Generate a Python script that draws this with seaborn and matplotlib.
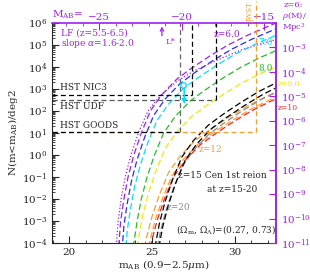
import numpy as np
import pandas as pd
import matplotlib
matplotlib.use("Agg")
import matplotlib.pyplot as plt
import seaborn as sns

sns.set_style("ticks")
plt.rcParams['font.family'] = ['DejaVu Serif']
plt.rcParams['mathtext.fontset'] = 'dejavuserif'

purple = '#a020f0'
blue = '#2a2aff'
cyan = '#00e0ff'
green = '#22c022'
yellow = '#f0ea00'
orange = '#ff9a2a'
red = '#ff2020'
gray = '#8a8a8a'

# cumulative counts, log10 N(<m) per deg^2
m_z6_a16 = [22.8, 22.85, 22.95, 23.13, 23.38, 23.72, 24.17, 24.75, 25.5, 26.5, 27.6, 28.9, 30.3, 31.6, 32.5, 33.5]
n_z6_a16 = [-5, -4, -3, -2, -1, 0, 1, 2, 2.7, 3.35, 3.85, 4.3, 4.75, 5.05, 5.25, 5.5]

m_z6 = [22.95, 23.0, 23.1, 23.3, 23.55, 23.9, 24.35, 24.9, 25.6, 26.5, 27.4, 28.5, 29.6, 30.8, 32.5, 33.5]
n_z6 = [-5, -4, -3, -2, -1, 0, 1, 2, 2.75, 3.45, 3.95, 4.5, 5.0, 5.45, 6.0, 6.3]

m_z65 = [23.15, 23.2, 23.3, 23.5, 23.75, 24.1, 24.55, 25.1, 25.8, 26.7, 27.6, 28.7, 29.8, 31.0, 32.7, 33.7]
n_z65 = [-5.2, -4.2, -3.2, -2.2, -1.2, -0.2, 0.8, 1.8, 2.55, 3.25, 3.75, 4.3, 4.8, 5.25, 5.8, 6.1]

m_z7 = [23.35, 23.4, 23.5, 23.7, 23.95, 24.3, 24.75, 25.3, 26.0, 26.9, 27.8, 28.9, 30.0, 31.2, 32.9, 33.9]
n_z7 = [-5.43, -4.43, -3.43, -2.43, -1.43, -0.43, 0.57, 1.57, 2.32, 3.02, 3.52, 4.07, 4.57, 5.02, 5.57, 5.87]

m_z8 = [23.75, 23.8, 23.9, 24.1, 24.35, 24.7, 25.15, 25.7, 26.4, 27.3, 28.2, 29.3, 30.4, 31.6, 33.3, 34.3]
n_z8 = [-6, -5, -4, -3, -2, -1, 0, 1, 1.75, 2.45, 2.95, 3.5, 4.0, 4.45, 5.0, 5.3]

m_z9 = [23.85, 23.9, 24.0, 24.2, 24.45, 24.8, 25.25, 25.8, 26.5, 27.4, 28.3, 29.4, 30.5, 31.7, 33.4, 34.4]
n_z9 = [-6.7, -5.7, -4.7, -3.7, -2.7, -1.7, -0.7, 0.3, 1.05, 1.75, 2.25, 2.8, 3.3, 3.75, 4.3, 4.6]

m_z10 = [24.35, 24.4, 24.5, 24.7, 24.95, 25.3, 25.75, 26.3, 27.0, 27.9, 28.8, 29.9, 31.0, 32.2, 33.9, 34.9]
n_z10 = [-8, -7, -6, -5, -4, -3, -2, -1, -0.25, 0.45, 0.95, 1.5, 2.0, 2.45, 3.0, 3.3]

m_z12a = [24.05, 24.1, 24.2, 24.4, 24.65, 25.0, 25.45, 26.0, 26.7, 27.6, 28.5, 29.6, 30.7, 31.9, 33.6, 34.6]
n_z12a = [-7.8, -6.8, -5.8, -4.8, -3.8, -2.8, -1.8, -0.8, -0.05, 0.65, 1.15, 1.7, 2.2, 2.65, 3.2, 3.5]
m_z12b = [24.25, 24.3, 24.4, 24.6, 24.85, 25.2, 25.65, 26.2, 26.9, 27.8, 28.7, 29.8, 30.9, 32.1, 33.8, 34.8]
n_z12b = [-7.95, -6.95, -5.95, -4.95, -3.95, -2.95, -1.95, -0.95, -0.2, 0.5, 1.0, 1.55, 2.05, 2.5, 3.05, 3.35]

m_z15a = [24.85, 24.9, 25.0, 25.2, 25.45, 25.8, 26.25, 26.8, 27.5, 28.4, 29.3, 30.4, 31.5, 32.7, 34.4, 35.4]
n_z15a = [-7.1, -6.1, -5.1, -4.1, -3.1, -2.1, -1.1, -0.1, 0.65, 1.35, 1.85, 2.4, 2.9, 3.35, 3.9, 4.2]
m_z15b = [25.05, 25.1, 25.2, 25.4, 25.65, 26.0, 26.45, 27.0, 27.7, 28.6, 29.5, 30.6, 31.7, 32.9, 34.6, 35.6]
n_z15b = [-7.25, -6.25, -5.25, -4.25, -3.25, -2.25, -1.25, -0.25, 0.5, 1.2, 1.7, 2.25, 2.75, 3.2, 3.75, 4.05]

m_z20 = [24.9, 24.95, 25.05, 25.25, 25.5, 25.85, 26.3, 26.85, 27.55, 28.45, 29.35, 30.45, 31.55, 32.75, 34.45, 35.45]
n_z20 = [-7.5, -6.5, -5.5, -4.5, -3.5, -2.5, -1.5, -0.5, 0.25, 0.95, 1.45, 2.0, 2.5, 2.95, 3.5, 3.8]

# survey limits: (depth in m_AB, log10 N for one object per field)
nic3 = (27.4, 2.75)
udf = (28.9, 2.5)
goods = (26.7, 1.05)
jwst = (31.3, 1.05)

fig = plt.figure(figsize=(3.1, 2.74), dpi=100)
ax = fig.add_axes([0.168, 0.113, 0.722, 0.803])

dash = (0, (5, 2.5))
curves = [
    (m_z6_a16, n_z6_a16, purple, ':'),
    (m_z6, n_z6, purple, dash),
    (m_z65, n_z65, blue, dash),
    (m_z7, n_z7, cyan, dash),
    (m_z8, n_z8, green, dash),
    (m_z9, n_z9, yellow, dash),
    (m_z12a, n_z12a, orange, dash),
    (m_z12b, n_z12b, orange, dash),
    (m_z10, n_z10, red, dash),
    (m_z20, n_z20, gray, dash),
    (m_z15a, n_z15a, 'black', dash),
    (m_z15b, n_z15b, 'black', dash),
]
for m, n, c, ls in curves:
    sns.lineplot(x=m, y=10.0 ** np.array(n), ax=ax, color=c, linestyle=ls,
                 lw=0.9, sort=False, estimator=None)

ax.set_yscale('log')
ax.set_xlim(18.95, 32.5)
ax.set_ylim(1e-4, 1e6)

# survey boxes
bl = (0, (4, 2.5))
ax.plot([18, jwst[0]], [10 ** jwst[1]] * 2, color=orange, ls=bl, lw=0.9)
ax.plot([jwst[0]] * 2, [10 ** jwst[1], 1e7], color=orange, ls=bl, lw=0.9, clip_on=False)
ax.plot([18, goods[0]], [10 ** goods[1]] * 2, color='black', ls=bl, lw=0.9)
ax.plot([goods[0]] * 2, [10 ** goods[1], 1e6], color='#666666', ls=bl, lw=0.9)
ax.plot([18, udf[0]], [10 ** udf[1]] * 2, color='#555555', ls=bl, lw=0.9)
ax.plot([udf[0]] * 2, [10 ** udf[1], 1e6], color='black', ls=bl, lw=0.9)
ax.plot([18, nic3[0]], [10 ** nic3[1]] * 2, color='black', ls=bl, lw=0.9)
ax.plot([nic3[0]] * 2, [10 ** nic3[1], 1e6], color='black', ls=bl, lw=0.9)

# z~6 object and L* marker
ax.annotate('', xy=(26.95, 10 ** 2.2), xytext=(26.95, 10 ** 3.15),
            arrowprops=dict(arrowstyle='-|>', color=cyan, lw=1.2, mutation_scale=6))
ax.plot([26.9], [10 ** 3.2], 'o', ms=4, mfc='none', mec=cyan, mew=1)
ax.annotate('', xy=(25.6, 10 ** 5.97), xytext=(25.6, 10 ** 5.3),
            arrowprops=dict(arrowstyle='->', color=purple, lw=0.9, mutation_scale=6))
ax.text(25.8, 10 ** 5.05, 'L*', color=purple, fontsize=6)

fs = 6.5
ax.text(19.5, 10 ** 5.55, 'LF (z=5.5-6.5)', color=purple, fontsize=fs, va='center')
ax.text(19.5, 10 ** 5.05, r'slope $\alpha$=1.6-2.0', color=purple, fontsize=fs, va='center')
ax.text(19.4, 10 ** 3.05, 'HST NIC3', fontsize=fs, va='center')
ax.text(19.4, 10 ** 2.2, 'HST UDF', fontsize=fs, va='center')
ax.text(19.4, 10 ** 1.36, 'HST GOODS', fontsize=fs, va='center')
ax.text(28.7, 10 ** 5.5, 'z=6.0', color=purple, fontsize=fs, va='center')
ax.text(31.45, 10 ** 5.1, '7.0', color=cyan, fontsize=fs, va='center')
ax.text(31.45, 10 ** 3.95, '8.0', color=green, fontsize=fs, va='center')
ax.text(32.6, 10 ** 3.25, 'z=9.0', color=yellow, fontsize=5.5, va='center', clip_on=False)
ax.text(32.6, 10 ** 2.12, 'z=10', color=red, fontsize=5.5, va='center', clip_on=False)
ax.text(27.8, 10 ** 0.27, 'z=12', color=orange, fontsize=fs, va='center')
ax.text(26.6, 10 ** -0.95, 'z=15 Cen 1st reion', fontsize=fs, va='center')
ax.text(28.3, 10 ** -1.55, 'at z=15-20', fontsize=fs, va='center')
ax.text(25.9, 10 ** -2.4, 'z=20', color=gray, fontsize=fs, va='center')
ax.text(26.45, 10 ** -3.4, r'($\Omega_{\rm m}$, $\Omega_{\Lambda}$)=(0.27, 0.73)', fontsize=fs, va='center')

# axes styling
ax.set_xticks([20, 25, 30])
ax.set_xticks(np.arange(19, 33), minor=True)
ax.set_yticks([10.0 ** k for k in range(-4, 7)])
ax.tick_params(which='both', direction='in', top=False, right=False, labelsize=7.5)
ax.tick_params(which='major', length=5)
ax.tick_params(which='minor', length=2.5)
ax.set_xlabel(r'm$_{\rm AB}$ (0.9$-$2.5$\mu$m)', fontsize=7.5, labelpad=1)
ax.set_ylabel(r'N(m<m$_{\rm AB}$)/deg2', fontsize=7.5, labelpad=1)
ax.spines['top'].set_color(purple)
ax.spines['right'].set_color(purple)
ax.spines['top'].set_linewidth(1.2)
ax.spines['right'].set_linewidth(1.2)

# top axis: absolute magnitude at z~6
dm = 46.8
top = ax.secondary_xaxis('top', functions=(lambda x: x - dm, lambda x: x + dm))
top.set_xticks([-25, -20, -15])
top.set_xticks(np.arange(-27, -13), minor=True)
top.set_xticklabels(['\u221225', '\u221220', '\u221215'])
top.tick_params(which='both', direction='in', colors=purple, labelsize=7.5, pad=1)
top.tick_params(which='major', length=5)
top.tick_params(which='minor', length=2.5)
top.spines['top'].set_visible(False)

# right axis: space density
ax2 = ax.twinx()
ax2.set_yscale('log')
ax2.set_ylim(1e-11, 1e-2)
ax2.set_yticks([10.0 ** k for k in range(-11, -2)])
ax2.tick_params(which='both', direction='in', colors=purple, labelsize=7.5)
ax2.tick_params(which='major', length=5)
ax2.tick_params(which='minor', length=2.5)
for s in ['left', 'bottom', 'top']:
    ax2.spines[s].set_visible(False)
ax2.spines['right'].set_color(purple)
ax2.spines['right'].set_linewidth(1.2)

fig.text(52 / 310, 1 - 15 / 274, r'M$_{\rm AB}$=', color=purple, fontsize=7.5, va='center')
fig.text(251 / 310, 1 - 12 / 274, 'JWST', color=orange, fontsize=5, rotation=90, va='center', ha='center')
fig.text(284 / 310, 1 - 5 / 274, 'z=6:', color=purple, fontsize=6, va='center')
fig.text(282 / 310, 1 - 16 / 274, r'$\rho$(M)/', color=purple, fontsize=6, va='center')
fig.text(282 / 310, 1 - 28 / 274, r'Mpc$^3$', color=purple, fontsize=6, va='center')

fig.savefig('out.png', dpi=100)
